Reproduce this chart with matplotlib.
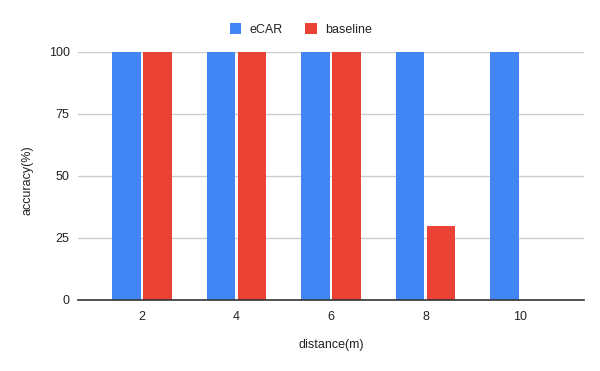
import matplotlib.pyplot as plt
import numpy as np

categories = ["2", "4", "6", "8", "10"]
ecar = [100, 100, 100, 100, 100]
baseline = [100, 100, 100, 30, 0]
yticks = [0, 25, 50, 75, 100]

plt.rcParams['font.family'] = ['Liberation Sans', 'DejaVu Sans']

fig = plt.figure(figsize=(6, 3.71), dpi=100)
W, H = 600, 371
ax = fig.add_axes([78 / W, 1 - 300 / H, (584 - 78) / W, (300 - 52) / H])

x = np.arange(len(categories))
bw = 0.304
gap = 0.011
ax.bar(x - bw / 2 - gap, ecar, width=bw, color='#4285F4', label='eCAR', zorder=2)
ax.bar(x + bw / 2 + gap, baseline, width=bw, color='#EA4335', label='baseline', zorder=2)

ax.set_xlim(-0.677, len(categories) - 1 + 0.677)
ax.set_ylim(0, 100)
ax.set_xticks(x)
ax.set_xticklabels(categories)
ax.set_yticks(yticks)
ax.tick_params(axis='both', length=0, labelsize=9, colors='#222222')
ax.tick_params(axis='x', pad=8)
ax.tick_params(axis='y', pad=6)
ax.grid(axis='y', color='#cccccc', linewidth=1, zorder=0)
ax.set_axisbelow(True)
for s in ['top', 'right', 'left']:
    ax.spines[s].set_visible(False)
ax.spines['bottom'].set_color('#333333')
ax.spines['bottom'].set_linewidth(1.2)
ax.spines['bottom'].set_zorder(3)

fig.text(331 / W, 1 - 345 / H, 'distance(m)', fontsize=9, color='#222222',
         ha='center', va='center')
fig.text(27 / W, 1 - 180 / H, 'accuracy(%)', fontsize=9, color='#222222',
         ha='center', va='center', rotation=90)

leg = fig.legend(loc='center', bbox_to_anchor=(301 / W, 1 - 29.5 / H), ncol=2,
                 frameon=False, fontsize=9, handlelength=0.9, handleheight=0.9,
                 handletextpad=0.7, columnspacing=1.8)
for t in leg.get_texts():
    t.set_color('#222222')

fig.savefig('out.png', dpi=100)
